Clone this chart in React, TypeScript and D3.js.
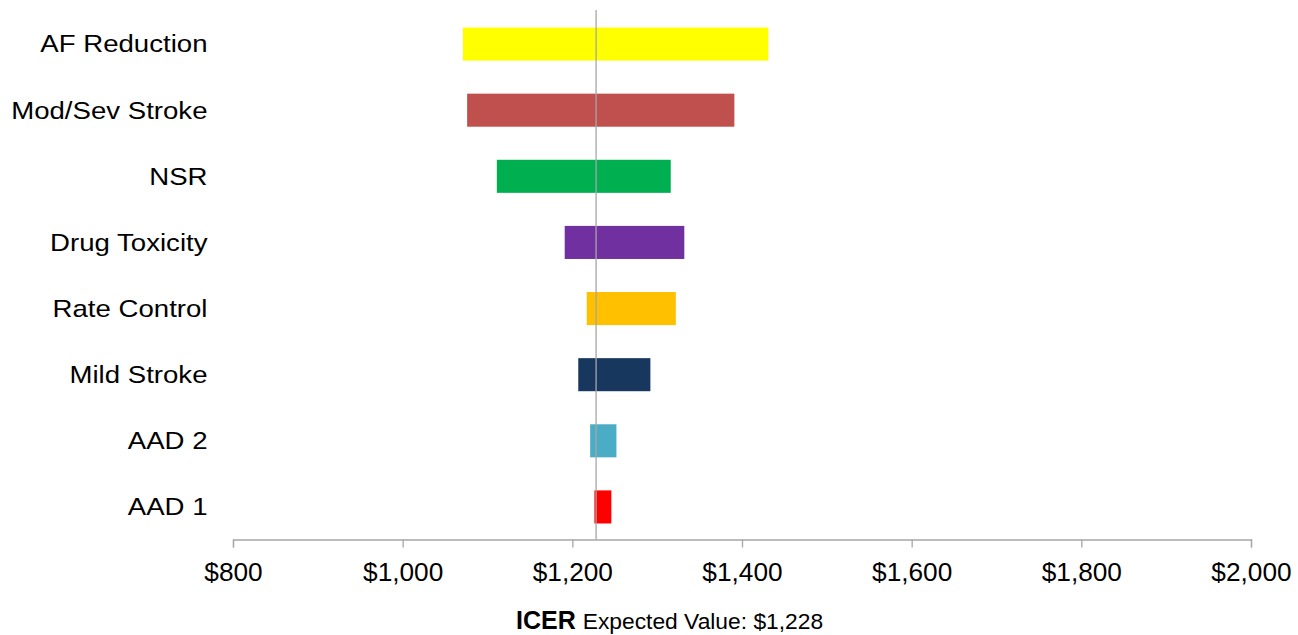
import React, { useEffect, useRef } from 'react';
import * as d3 from 'd3';

// tornado chart: ICER sensitivity ranges per parameter
const categories = [
  'AF Reduction',
  'Mod/Sev Stroke',
  'NSR',
  'Drug Toxicity',
  'Rate Control',
  'Mild Stroke',
  'AAD 2',
  'AAD 1',
];
const lowValues = [1071, 1076, 1111, 1191, 1217, 1207, 1221, 1226];
const highValues = [1431, 1391, 1316, 1332, 1322, 1292, 1252, 1246];
const barColors = ['#FFFF00', '#C0504D', '#00B050', '#7030A0', '#FFC000', '#17375E', '#4BACC6', '#FF0000'];
const xTicks = [800, 1000, 1200, 1400, 1600, 1800, 2000];
const expectedValue = 1228;

const App: React.FC = () => {
  const svgRef = useRef<SVGSVGElement>(null);

  useEffect(() => {
    if (!svgRef.current) return;
    const svg = d3.select(svgRef.current);
    svg.selectAll('*').remove();

    const font = '"Liberation Sans", Arial, sans-serif';
    const x = d3.scaleLinear().domain([800, 2000]).range([233, 1251]);
    const y = d3.scaleBand<string>()
      .domain(categories)
      .range([11, 540])
      .paddingInner(0.5)
      .paddingOuter(0.25);
    const axisY = 539.5;

    const rows = categories.map((c, i) => ({ c, lo: lowValues[i], hi: highValues[i], color: barColors[i] }));

    // Bars
    svg.append('g')
      .selectAll('rect')
      .data(rows)
      .enter()
      .append('rect')
      .attr('x', d => x(d.lo))
      .attr('width', d => x(d.hi) - x(d.lo))
      .attr('y', d => y(d.c)!)
      .attr('height', y.bandwidth())
      .attr('fill', d => d.color);

    // Category labels
    svg.append('g')
      .selectAll('text')
      .data(rows)
      .enter()
      .append('text')
      .attr('transform', d => `translate(207.5,${y(d.c)! + y.bandwidth() / 2}) scale(1.15,1)`)
      .attr('dy', '0.35em')
      .attr('text-anchor', 'end')
      .attr('fill', '#000')
      .style('font-family', font)
      .style('font-size', '24px')
      .text(d => d.c);

    // Expected value line
    svg.append('line')
      .attr('x1', x(expectedValue))
      .attr('x2', x(expectedValue))
      .attr('y1', 10)
      .attr('y2', axisY)
      .attr('stroke', '#a6a6a6')
      .attr('stroke-width', 1.3);

    // X axis
    const axis = d3.axisBottom(x)
      .tickValues(xTicks)
      .tickFormat(d => d3.format('$,.0f')(d as number))
      .tickSize(8)
      .tickPadding(16);
    const ax = svg.append('g')
      .attr('transform', `translate(0,${axisY})`)
      .call(axis);
    ax.select('.domain').attr('stroke', '#a6a6a6').attr('stroke-width', 1.3);
    ax.selectAll('.tick line').attr('stroke', '#a6a6a6').attr('stroke-width', 1.3);
    ax.selectAll('.tick text')
      .attr('fill', '#000')
      .attr('transform', 'scale(1.05,1)')
      .style('font-family', font)
      .style('font-size', '25px');

    // Axis title
    const title = svg.append('text')
      .attr('x', 516)
      .attr('y', 629)
      .attr('fill', '#000')
      .style('font-family', font);
    title.append('tspan')
      .style('font-weight', 'bold')
      .style('font-size', '25px')
      .text('ICER');
    title.append('tspan')
      .attr('dx', 7)
      .style('font-size', '22.8px')
      .text(`Expected Value: ${d3.format('$,.0f')(expectedValue)}`);
  }, []);

  return (
    <div style={{ position: 'absolute', left: 0, top: 0, background: '#fff' }}>
      <svg ref={svgRef} width={1298} height={635} />
    </div>
  );
};

export default App;
